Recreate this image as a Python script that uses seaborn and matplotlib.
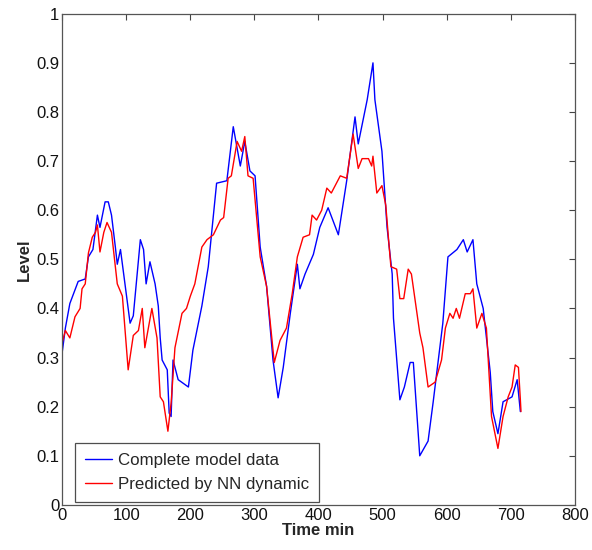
import matplotlib
matplotlib.use("Agg")
import matplotlib.pyplot as plt
import seaborn as sns
import pandas as pd

# Complete model data (blue)
model_time = [0, 5, 12, 25, 36, 41, 48, 55, 59, 67, 72, 77, 83, 86, 91, 98, 106, 111,
              122, 127, 131, 137, 145, 150, 153, 156, 164, 167, 170, 173, 181, 197, 204,
              218, 228, 241, 257, 267, 278, 285, 293, 301, 309, 319, 329, 337, 345, 356,
              367, 371, 379, 392, 402, 415, 431, 444, 457, 462, 476, 485, 488, 499, 507,
              515, 517, 527, 534, 543, 548, 558, 571, 579, 594, 602, 616, 626, 632, 641,
              647, 657, 668, 672, 680, 688, 702, 710, 715]
model_level = [0.31, 0.36, 0.41, 0.455, 0.46, 0.505, 0.52, 0.59, 0.565, 0.617, 0.617, 0.59,
               0.525, 0.49, 0.52, 0.45, 0.37, 0.385, 0.54, 0.52, 0.45, 0.495, 0.45, 0.405,
               0.34, 0.295, 0.275, 0.187, 0.18, 0.295, 0.255, 0.24, 0.315, 0.405, 0.485,
               0.655, 0.66, 0.77, 0.69, 0.74, 0.68, 0.67, 0.525, 0.445, 0.295, 0.218, 0.28,
               0.39, 0.49, 0.44, 0.47, 0.51, 0.565, 0.605, 0.55, 0.66, 0.79, 0.735, 0.825,
               0.90, 0.825, 0.72, 0.565, 0.47, 0.38, 0.214, 0.24, 0.29, 0.29, 0.10, 0.13,
               0.21, 0.37, 0.505, 0.52, 0.54, 0.515, 0.54, 0.45, 0.40, 0.27, 0.19, 0.145,
               0.21, 0.22, 0.255, 0.19]

# Predicted by NN dynamic (red)
nn_time = [0, 5, 12, 20, 28, 31, 36, 41, 47, 52, 55, 59, 65, 70, 77, 86, 94, 103, 111,
           119, 125, 129, 140, 148, 153, 158, 165, 170, 176, 187, 194, 200, 207, 218, 226,
           236, 247, 252, 259, 264, 273, 280, 285, 290, 298, 309, 319, 331, 340, 350, 359,
           367, 376, 386, 390, 397, 405, 413, 420, 434, 444, 454, 462, 468, 478, 483, 485,
           491, 499, 505, 510, 513, 522, 527, 533, 540, 545, 558, 563, 571, 582, 592, 598,
           605, 610, 615, 620, 629, 637, 641, 647, 655, 662, 670, 680, 688, 696, 702, 707,
           712, 715, 716]
nn_level = [0.33, 0.355, 0.34, 0.383, 0.40, 0.44, 0.45, 0.513, 0.545, 0.555, 0.57, 0.515,
            0.555, 0.575, 0.555, 0.45, 0.425, 0.275, 0.345, 0.355, 0.40, 0.32, 0.40, 0.34,
            0.22, 0.21, 0.15, 0.207, 0.32, 0.39, 0.40, 0.425, 0.45, 0.525, 0.54, 0.55, 0.58,
            0.585, 0.665, 0.67, 0.74, 0.72, 0.75, 0.67, 0.665, 0.505, 0.445, 0.29, 0.335,
            0.36, 0.43, 0.505, 0.545, 0.55, 0.59, 0.58, 0.60, 0.645, 0.635, 0.67, 0.665,
            0.755, 0.685, 0.705, 0.705, 0.69, 0.71, 0.635, 0.65, 0.61, 0.53, 0.485, 0.48,
            0.42, 0.42, 0.48, 0.47, 0.35, 0.32, 0.24, 0.25, 0.295, 0.36, 0.39, 0.38, 0.40,
            0.38, 0.43, 0.43, 0.44, 0.36, 0.39, 0.36, 0.18, 0.115, 0.18, 0.22, 0.24, 0.285,
            0.28, 0.214, 0.19]

series_names = ["Complete model data", "Predicted by NN dynamic"]
x_ticks = [0, 100, 200, 300, 400, 500, 600, 700, 800]
y_ticks = [0, 0.1, 0.2, 0.3, 0.4, 0.5, 0.6, 0.7, 0.8, 0.9, 1]
y_tick_labels = ["0", "0.1", "0.2", "0.3", "0.4", "0.5", "0.6", "0.7", "0.8", "0.9", "1"]

sns.set_style("white")
plt.rcParams["font.family"] = ["Liberation Sans", "DejaVu Sans"]

df_model = pd.DataFrame({"t": model_time, "level": model_level})
df_nn = pd.DataFrame({"t": nn_time, "level": nn_level})

fig = plt.figure(figsize=(5.92, 5.5), dpi=100)
ax = fig.add_axes([0.105, 0.082, 0.866, 0.893])

sns.lineplot(data=df_model, x="t", y="level", ax=ax, color="#0000ff", lw=1.0,
             label=series_names[0], sort=False)
sns.lineplot(data=df_nn, x="t", y="level", ax=ax, color="#ff0000", lw=1.0,
             label=series_names[1], sort=False)

ax.set_xlim(0, 800)
ax.set_ylim(0, 1)
ax.set_xticks(x_ticks)
ax.set_xticklabels([str(v) for v in x_ticks])
ax.set_yticks(y_ticks)
ax.set_yticklabels(y_tick_labels)
ax.tick_params(direction="in", top=True, right=True, length=4, width=0.8,
               labelsize=12, colors="#444444", labelcolor="#111111", pad=2)
for s in ax.spines.values():
    s.set_visible(True)
    s.set_color("#555555")
    s.set_linewidth(0.9)

ax.set_xlabel("Time min", fontsize=12, fontweight="bold", labelpad=0)
ax.set_ylabel("Level", fontsize=12, fontweight="bold", labelpad=3)

leg = ax.legend(loc="lower left", bbox_to_anchor=(13 / 513, 3 / 491), borderaxespad=0,
                fontsize=12.2, frameon=True, fancybox=False, edgecolor="#222222",
                handlelength=1.6, handletextpad=0.3, borderpad=0.6,
                labelspacing=0.5)
leg.get_frame().set_linewidth(0.9)

fig.savefig("out.png", dpi=100)
